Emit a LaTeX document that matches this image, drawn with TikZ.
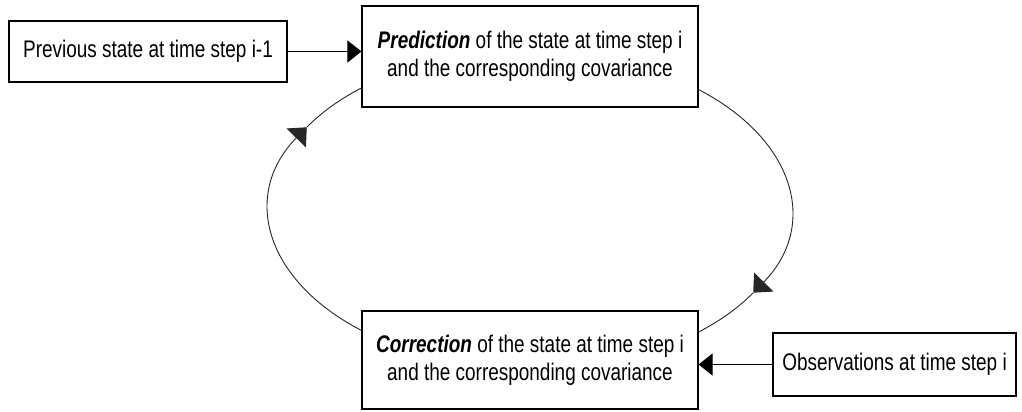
\documentclass[tikz,border=0pt]{standalone}
\usepackage{fontspec}
\setmainfont[FakeStretch=0.79]{Liberation Sans}
\usetikzlibrary{arrows.meta,calc}
\begin{document}
\begin{tikzpicture}[x=1pt,y=1pt,
  box/.style={draw=black,line width=1.1pt,fill=white,inner sep=0pt,align=center,
    font=\fontsize{24}{28}\selectfont},
  flow/.style={draw=black,line width=1pt,-{Triangle[length=14pt,width=22pt]}},
  loop/.style={draw=black!85,line width=0.9pt},
  looparrow/.style={loop,-{Triangle[length=15pt,width=27pt]}}]
\useasboundingbox (0,0) rectangle (1022,412);
\node[box,minimum width=278pt,minimum height=61pt] (prev) at (148,360.5) {Previous state at time step i-1};
\node[box,minimum width=336pt,minimum height=101pt] (pred) at (530,355.5)
  {\textbf{\textit{Prediction}} of the state at time step i\\and the corresponding covariance};
\node[box,minimum width=336pt,minimum height=98pt] (corr) at (530,52)
  {\textbf{\textit{Correction}} of the state at time step i\\and the corresponding covariance};
\node[box,minimum width=243pt,minimum height=63pt] (obs) at (894.5,47.5) {Observations at time step i};
% straight arrows
\draw[flow] (prev.east) -- (prev.east -| pred.west);
\draw[flow] (obs.west) -- (obs.west -| corr.east);
% left arc: correction -> prediction
\draw[looparrow] ($(corr.north west)+(0,-20)$) arc[start angle=229.7,end angle=149,x radius=260,y radius=159] coordinate (lt);
\draw[loop] (lt) arc[start angle=149,end angle=130.3,x radius=260,y radius=159];
% right arc: prediction -> correction
\draw[looparrow] ($(pred.south east)+(0,18)$) arc[start angle=49.7,end angle=-31,x radius=260,y radius=159] coordinate (rt);
\draw[loop] (rt) arc[start angle=-31,end angle=-49.7,x radius=260,y radius=159];
\end{tikzpicture}
\end{document}
